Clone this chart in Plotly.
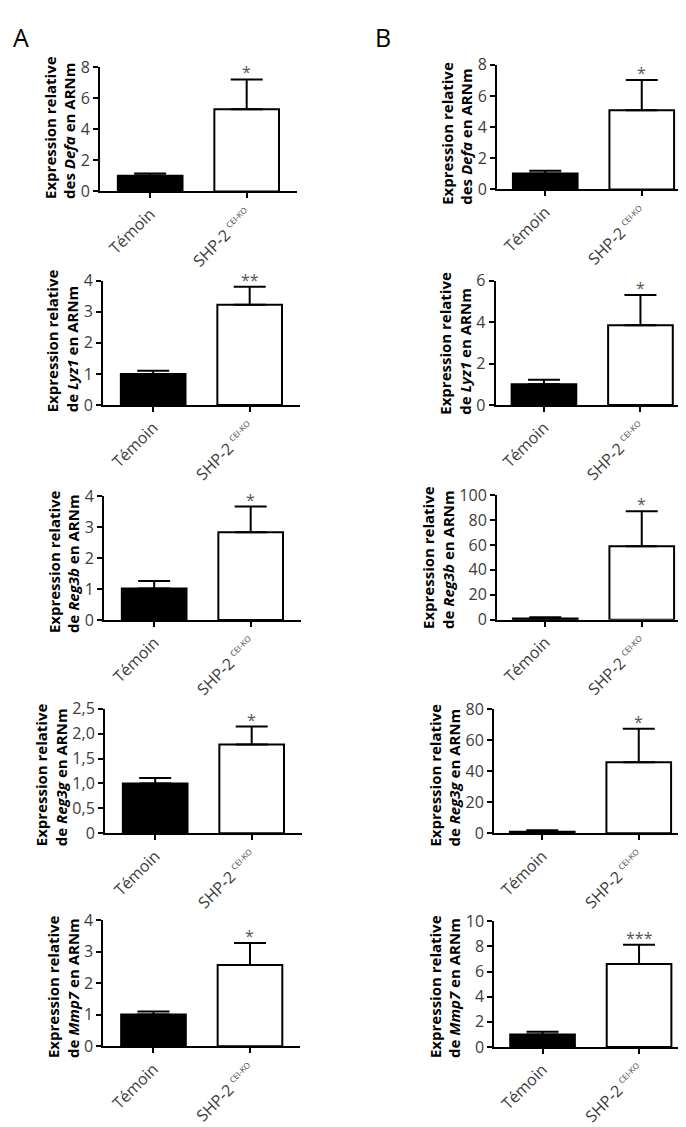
import plotly.graph_objects as go

# ---------------- data ----------------
categories = ["Témoin", "SHP-2 <sup><span style='font-size:8px'>CEI-KO</span></sup>"]
genes = ["Defa", "Lyz1", "Reg3b", "Reg3g", "Mmp7"]
title_prefix = ["des", "de", "de", "de", "de"]

a_temoin = [1.0, 1.0, 1.02, 1.0, 1.01]
a_temoin_err = [0.15, 0.10, 0.24, 0.11, 0.10]
a_ko = [5.28, 3.23, 2.83, 1.78, 2.58]
a_ko_err = [1.92, 0.58, 0.83, 0.36, 0.70]
a_stars = ["*", "**", "*", "*", "*"]
a_ymax = [8, 4, 4, 2.5, 4]
a_tickvals = [[0, 2, 4, 6, 8], [0, 1, 2, 3, 4], [0, 1, 2, 3, 4],
              [0, 0.5, 1.0, 1.5, 2.0, 2.5], [0, 1, 2, 3, 4]]
a_ticktext = [["0", "2", "4", "6", "8"], ["0", "1", "2", "3", "4"], ["0", "1", "2", "3", "4"],
              ["0", "0,5", "1,0", "1,5", "2,0", "2,5"], ["0", "1", "2", "3", "4"]]

b_temoin = [1.02, 1.0, 1.0, 1.0, 1.0]
b_temoin_err = [0.18, 0.22, 1.0, 1.0, 0.21]
b_ko = [5.09, 3.85, 58.9, 45.7, 6.6]
b_ko_err = [1.94, 1.46, 28.1, 21.5, 1.54]
b_stars = ["*", "*", "*", "*", "***"]
b_ymax = [8, 6, 100, 80, 10]
b_tickvals = [[0, 2, 4, 6, 8], [0, 2, 4, 6], [0, 20, 40, 60, 80, 100],
              [0, 20, 40, 60, 80], [0, 2, 4, 6, 8, 10]]
b_ticktext = [[str(v) for v in tv] for tv in b_tickvals]

# ---------------- layout geometry (reference pixels) ----------------
OFF = 8                      # default page body margin
W, H = 686 - OFF, 1127 - OFF
CAT_PX = 96.5
FONT = "Open Sans"
TICK_COLOR = "#3c3c3c"
TICK_SIZE = 16
TITLE_SIZE = 15


def px_x(v):
    return (v - OFF) / W


def px_y(v):
    return 1 - (v - OFF) / H


def label_width(texts):
    w = 0
    for t in texts:
        tw = sum(0.27 if ch == "," else 0.572 for ch in t) * TICK_SIZE
        w = max(w, tw)
    return w


# (axis x, top y, bottom y, title center y)
a_geom = [(100, 57.3, 185, 119), (103, 276.7, 404.3, 338),
          (104, 497.7, 625, 564.7), (105, 716, 844, 784),
          (103.3, 933.3, 1062.7, 1001.7)]
b_geom = [(497, 55, 183, 125), (495.7, 276.7, 404.3, 340.8),
          (497, 496.7, 624.7, 560.8), (494, 716.3, 844, 784),
          (494.3, 934.3, 1063.3, 1000.8)]

fig = go.Figure()
layout = {}
annotations = []

columns = [
    (a_temoin, a_temoin_err, a_ko, a_ko_err, a_stars, a_ymax, a_tickvals, a_ticktext, a_geom, "A"),
    (b_temoin, b_temoin_err, b_ko, b_ko_err, b_stars, b_ymax, b_tickvals, b_ticktext, b_geom, "B"),
]

n = 0
for tm, te, ko, ke, stars, ymax, tvals, ttext, geom, col in columns:
    for r in range(5):
        n += 1
        ax_x, top, bot, tcy = geom[r]
        if col == "A":
            x0, x1 = ax_x, ax_x + 2.04 * CAT_PX
            xr = [-0.52, 1.52]
        else:
            x0, x1 = ax_x, 686
            xr = [-0.5, -0.5 + (686 - ax_x) / CAT_PX]
        xname = "xaxis" if n == 1 else f"xaxis{n}"
        yname = "yaxis" if n == 1 else f"yaxis{n}"
        xref = "x" if n == 1 else f"x{n}"
        yref = "y" if n == 1 else f"y{n}"

        fig.add_trace(go.Bar(
            x=categories, y=[tm[r], ko[r]],
            marker=dict(color=["black", "white"], line=dict(color="black", width=2)),
            error_y=dict(type="data", symmetric=False, array=[te[r], ke[r]],
                         arrayminus=[0, 0], color="black", thickness=2, width=16),
            xaxis=xref, yaxis=yref, showlegend=False, hoverinfo="skip",
        ))

        layout[xname] = dict(
            domain=[px_x(x0), min(1.0, px_x(x1))], anchor=yref, range=xr, type="category",
            showline=True, linecolor="black", linewidth=2,
            ticks="outside", ticklen=5, tickwidth=1.5, tickcolor="black",
            tickangle=-45, tickfont=dict(family=FONT, size=16, color=TICK_COLOR),
            showgrid=False, zeroline=False, fixedrange=True,
        )
        layout[yname] = dict(
            domain=[px_y(bot), px_y(top)], anchor=xref, range=[0, ymax[r]],
            tickvals=tvals[r], ticktext=ttext[r],
            showline=True, linecolor="black", linewidth=2,
            ticks="outside", ticklen=5, tickwidth=2, tickcolor="black",
            tickfont=dict(family=FONT, size=TICK_SIZE, color=TICK_COLOR),
            showgrid=False, zeroline=False, fixedrange=True,
        )

        # y-axis title placed just left of the tick labels
        tcx = ax_x - 8 - label_width(ttext[r]) - 4 - 19
        annotations.append(dict(
            text=f"<b>Expression relative<br>{title_prefix[r]} <i>{genes[r]}</i> en ARNm</b>",
            xref="paper", yref="paper", x=px_x(tcx), y=px_y(tcy),
            xanchor="center", yanchor="middle", textangle=-90, align="left",
            showarrow=False, font=dict(family=FONT, size=TITLE_SIZE, color="black"),
        ))
        annotations.append(dict(
            text=stars[r], xref=xref, yref=yref, x=categories[1], y=ko[r] + ke[r],
            xanchor="center", yanchor="bottom", yshift=-6, showarrow=False,
            font=dict(family=FONT, size=16, color="#555555"),
        ))

annotations.append(dict(text="A", xref="paper", yref="paper", x=px_x(11), y=px_y(7),
                        xanchor="left", yanchor="top", showarrow=False,
                        font=dict(family=FONT, size=25, color="black")))
annotations.append(dict(text="B", xref="paper", yref="paper", x=px_x(373), y=px_y(7),
                        xanchor="left", yanchor="top", showarrow=False,
                        font=dict(family=FONT, size=25, color="black")))

fig.update_layout(
    width=W, height=H, margin=dict(l=0, r=0, t=0, b=0),
    paper_bgcolor="white", plot_bgcolor="white",
    bargap=0.33, annotations=annotations,
    font=dict(family=FONT),
    **layout,
)

fig.write_html("out.html")
